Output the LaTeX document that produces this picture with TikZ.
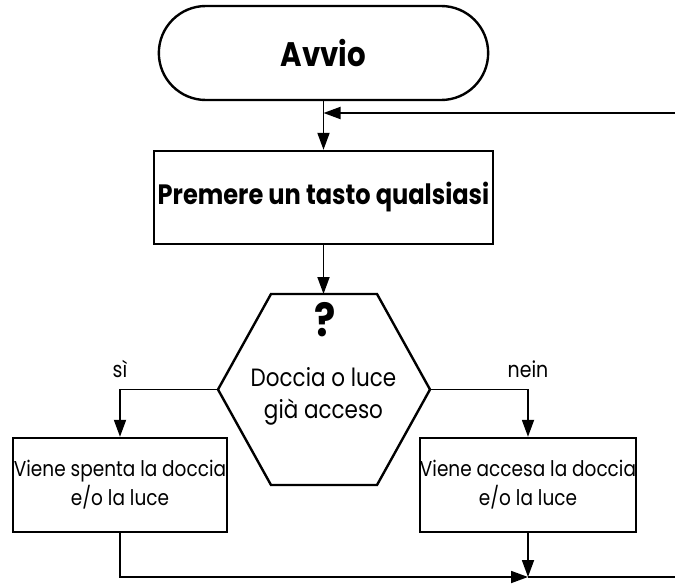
\documentclass[tikz,border=0pt]{standalone}
\usepackage{fontspec}
\setmainfont{Poppins}[FakeStretch=0.86]
\usetikzlibrary{arrows.meta,shapes.misc}
\begin{document}
\begin{tikzpicture}[x=1pt,y=-1pt,
  box/.style={draw, line width=2.4pt, rectangle, align=center, inner sep=0pt},
  conn/.style={line width=1.8pt, -{Triangle[length=17pt,width=12pt]}},
  plain/.style={line width=1.8pt},
  lbl/.style={font=\fontsize{22}{24}\selectfont, inner sep=0pt}
]
\useasboundingbox (0,0) rectangle (675,586);
% nodes
\node[draw, line width=2.4pt, rounded rectangle, minimum width=336pt, minimum height=94pt,
      font=\fontsize{34}{36}\selectfont\bfseries] (avvio) at (323.5,53) {Avvio};
\node[box, minimum width=339pt, minimum height=93pt,
      font=\fontsize{28}{30}\selectfont\bfseries] (premere) at (323.5,197.5) {Premere un tasto qualsiasi};
% hexagon
\coordinate (hexT) at (323.5,294);
\coordinate (hexL) at (218,389.5);
\coordinate (hexR) at (430,389.5);
\draw[line width=2.4pt, line join=miter] (271,294) -- (377,294) -- (hexR) -- (377,485) -- (271,485) -- (hexL) -- cycle;
\node[font=\fontsize{46}{46}\selectfont\bfseries, inner sep=0pt] (qmark) at (325,320) {?};
\node[align=center, font=\fontsize{25}{32}\selectfont, inner sep=0pt] (question) at (323.5,396) {Doccia o luce\\già acceso};
% boxes
\node[box, minimum width=214pt, minimum height=94pt,
      font=\fontsize{21.5}{29}\selectfont] (lbox) at (120,485) {Viene spenta la doccia\\e/o la luce};
\node[box, minimum width=214pt, minimum height=94pt,
      font=\fontsize{21.5}{29}\selectfont] (rbox) at (528,485) {Viene accesa la doccia\\e/o la luce};
% labels
\node[lbl] (si) at (120,369) {sì};
\node[lbl] (nein) at (528,369) {nein};
% connectors
\coordinate (entryR) at (675,113);
\coordinate (loopIn) at (323.5,113);
\coordinate (junction) at (528,577);
\coordinate (exitR) at (675,577);
\draw[conn] (entryR) -- (loopIn);
\draw[conn] (avvio.south) -- (premere.north);
\draw[conn] (premere.south) -- (hexT);
\draw[conn] (hexL) -| (lbox.north);
\draw[conn] (hexR) -| (rbox.north);
\draw[conn] (lbox.south) |- (junction);
\draw[plain] (junction) -- (exitR);
\draw[conn] (rbox.south) -- (junction);
\end{tikzpicture}
\end{document}
